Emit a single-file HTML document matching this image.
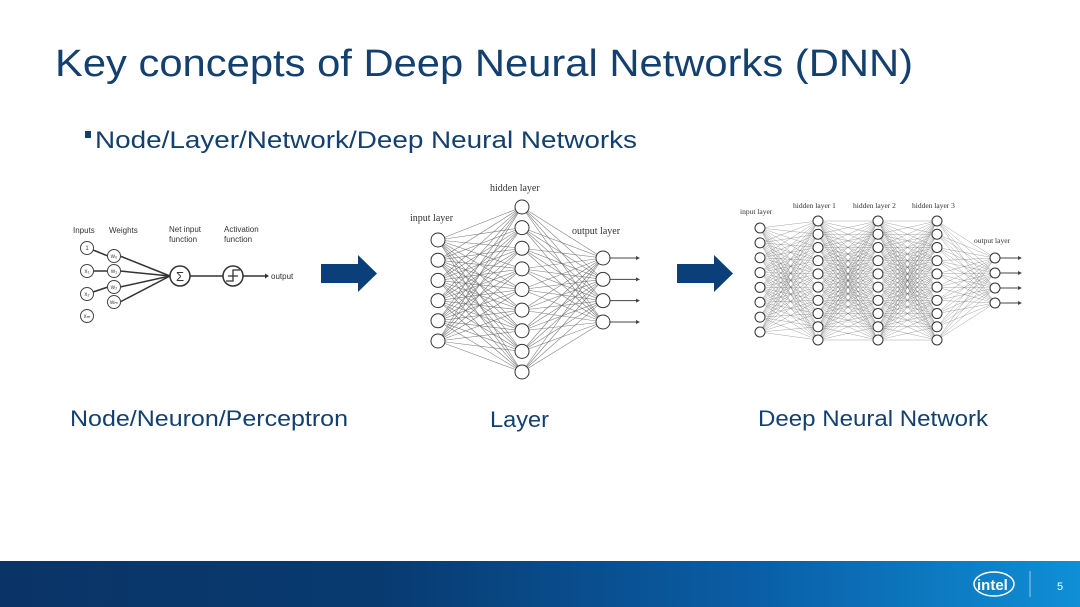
<!DOCTYPE html>
<html><head><meta charset="utf-8"><style>
html,body{margin:0;padding:0;background:#fff;}
svg{display:block;}
</style></head><body>
<svg id="s" width="1080" height="607" viewBox="0 0 1080 607" xmlns="http://www.w3.org/2000/svg" font-family="Liberation Sans, sans-serif">
<defs>
<linearGradient id="g" x1="0" x2="1" y1="0" y2="0">
<stop offset="0" stop-color="#0a3468"/><stop offset="0.35" stop-color="#083a70"/><stop offset="0.7" stop-color="#0a5ea6"/><stop offset="1" stop-color="#0f8fd6"/>
</linearGradient>
</defs>
<rect width="1080" height="607" fill="#fff"/>
<text x="55" y="76" font-size="38" fill="#14406f" textLength="858" lengthAdjust="spacingAndGlyphs">Key concepts of Deep Neural Networks (DNN)</text>
<rect x="85" y="131" width="6" height="7" fill="#14406f"/>
<text x="95" y="148" font-size="24" fill="#14406f" textLength="542" lengthAdjust="spacingAndGlyphs">Node/Layer/Network/Deep Neural Networks</text>
<text x="70" y="426" font-size="22" fill="#14406f" textLength="278" lengthAdjust="spacingAndGlyphs">Node/Neuron/Perceptron</text>
<text x="490" y="427" font-size="22" fill="#14406f" textLength="59" lengthAdjust="spacingAndGlyphs">Layer</text>
<text x="758" y="426" font-size="22" fill="#14406f" textLength="230" lengthAdjust="spacingAndGlyphs">Deep Neural Network</text>
<polygon points="321,264 358,264 358,255 377,273.5 358,292 358,283 321,283" fill="#0a3f7a"/>
<polygon points="677,264 714,264 714,255 733,273.5 714,292 714,283 677,283" fill="#0a3f7a"/>
<!-- perceptron -->
<g font-size="8" fill="#333">
<text x="73" y="233">Inputs</text><text x="109" y="233">Weights</text>
<text x="169" y="232">Net input</text><text x="169" y="242">function</text>
<text x="224" y="232">Activation</text><text x="224" y="242">function</text>
<text x="271" y="279">output</text>
</g>
<g stroke="#333" stroke-width="1.5" fill="none">
<line x1="93" y1="250" x2="108" y2="256"/><line x1="93" y1="271" x2="108" y2="271"/><line x1="93" y1="292" x2="108" y2="287"/>
<line x1="120" y1="256" x2="170" y2="276"/><line x1="120" y1="271" x2="170" y2="276"/><line x1="120" y1="287" x2="170" y2="276"/><line x1="120" y1="302" x2="170" y2="276"/>
<line x1="190" y1="276" x2="223" y2="276"/><line x1="243" y1="276" x2="265" y2="276"/>
</g>
<g stroke="#444" stroke-width="1" fill="#fff">
<circle cx="87" cy="248" r="6.5"/><circle cx="87" cy="271" r="6.5"/><circle cx="87" cy="294" r="6.5"/><circle cx="87" cy="316" r="6.5"/>
<circle cx="114" cy="256" r="6.5"/><circle cx="114" cy="271" r="6.5"/><circle cx="114" cy="287" r="6.5"/><circle cx="114" cy="302" r="6.5"/>
</g>
<g stroke="#333" stroke-width="1.5" fill="#fff"><circle cx="180" cy="276" r="10"/><circle cx="233" cy="276" r="10"/></g>
<path d="M226,281 L233,281 L233,270 L240,270 M228,276 L238,276" stroke="#333" stroke-width="1.3" fill="none"/>
<text x="176" y="281" font-size="13" fill="#333">Σ</text>
<polygon points="265,273.5 269,276 265,278.5" fill="#333"/>
<g font-size="6" fill="#444" text-anchor="middle">
<text x="87" y="250">1</text><text x="87" y="273">x₁</text><text x="87" y="296">x₂</text><text x="87" y="318">xₘ</text>
<text x="114" y="258">w₀</text><text x="114" y="273">w₁</text><text x="114" y="289">w₂</text><text x="114" y="304">wₘ</text>
</g>
<!-- layer labels -->
<g font-family="Liberation Serif, serif" fill="#333">
<text x="490" y="191" font-size="10">hidden layer</text>
<text x="410" y="221" font-size="10">input layer</text>
<text x="572" y="234" font-size="10">output layer</text>
<text x="740" y="214" font-size="7.5">input layer</text>
<text x="793" y="208" font-size="7.5">hidden layer 1</text>
<text x="853" y="208" font-size="7.5">hidden layer 2</text>
<text x="912" y="208" font-size="7.5">hidden layer 3</text>
<text x="974" y="243" font-size="7.5">output layer</text>
</g>
<g id="net"></g>
<rect x="0" y="561" width="1080" height="46" fill="url(#g)"/>
<ellipse cx="994" cy="584" rx="20" ry="12" fill="none" stroke="#fff" stroke-width="1.5"/>
<text x="977" y="590" font-size="15" fill="#fff" font-weight="bold">intel</text>
<line x1="1030" y1="571" x2="1030" y2="597" stroke="#9cc8ea" stroke-width="1"/>
<text x="1057" y="590" font-size="11" fill="#fff">5</text>
</svg>
<script>
var ns="http://www.w3.org/2000/svg",g=document.getElementById("net");
function col(x,n,y0,y1){var a=[];for(var i=0;i<n;i++)a.push([x,n==1?y0:y0+(y1-y0)*i/(n-1)]);return a;}
function el(t,at){var e=document.createElementNS(ns,t);for(var k in at)e.setAttribute(k,at[k]);g.appendChild(e);return e;}
function net(layers,r,sw,ax){
 for(var l=0;l<layers.length-1;l++)layers[l].forEach(function(p){layers[l+1].forEach(function(q){el("line",{x1:p[0],y1:p[1],x2:q[0],y2:q[1],stroke:"#555","stroke-width":sw,"stroke-opacity":0.75});});});
 var out=layers[layers.length-1];
 out.forEach(function(p){el("line",{x1:p[0]+r,y1:p[1],x2:ax-3,y2:p[1],stroke:"#444","stroke-width":1});el("polygon",{points:(ax-4)+","+(p[1]-2)+" "+ax+","+p[1]+" "+(ax-4)+","+(p[1]+2),fill:"#444"});});
 layers.forEach(function(L){L.forEach(function(p){el("circle",{cx:p[0],cy:p[1],r:r,fill:"#fff",stroke:"#333","stroke-width":1});});});
}
net([col(438,6,240,341),col(522,9,207,372),col(603,4,258,322)],7,0.6,640);
net([col(760,8,228,332),col(818,10,221,340),col(878,10,221,340),col(937,10,221,340),col(995,4,258,303)],5,0.35,1022);
</script>
</body></html>
